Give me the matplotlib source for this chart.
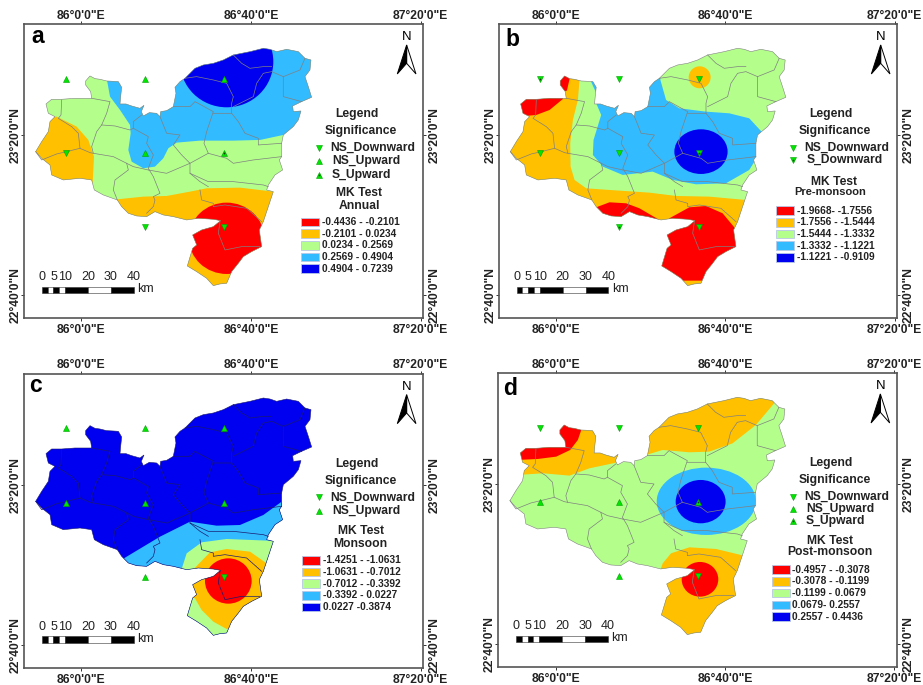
import matplotlib
matplotlib.use('Agg')
import matplotlib.pyplot as plt
from matplotlib.patches import Ellipse, Polygon, Rectangle

plt.rcParams['font.family'] = ['Liberation Sans', 'DejaVu Sans']

# Colour classes, low to high
class_colors = ['#FF0000', '#FFC000', '#B4FF8C', '#33BBFF', '#0000F0']
RED, ORANGE, GREEN, BLUE, NAVY = class_colors

outline = [(257, 243), (270, 228), (285, 236), (300, 238), (320, 243), (340, 244), (355, 245), (365, 262), (362, 290),
           (360, 312), (378, 312), (395, 318), (420, 325), (432, 316), (424, 335), (430, 348), (448, 338), (470, 340),
           (480, 350), (482, 335), (500, 332), (520, 320), (528, 280), (525, 262), (540, 245), (555, 235), (585, 205),
           (610, 195), (640, 190), (670, 180), (700, 165), (725, 160), (750, 155), (790, 145), (810, 148), (830, 155),
           (860, 148), (895, 155), (915, 175), (933, 180), (930, 210), (915, 230), (925, 260), (935, 292), (905, 305),
           (878, 318), (880, 335), (903, 333), (895, 360), (880, 380), (850, 405), (845, 430), (845, 470), (838, 480),
           (848, 510), (825, 525), (805, 555), (800, 570), (820, 575), (805, 620), (790, 665), (778, 690), (785, 740),
           (755, 755), (730, 770), (715, 790), (695, 815), (680, 850), (660, 852), (640, 857), (620, 835), (590, 815),
           (562, 798), (578, 745), (590, 735), (578, 705), (605, 690), (640, 680), (662, 662), (640, 658), (595, 655),
           (560, 660), (520, 650), (490, 645), (465, 635), (440, 650), (410, 648), (385, 640), (365, 620), (352, 600),
           (310, 585), (283, 570), (275, 540), (240, 535), (190, 540), (155, 525), (150, 495), (125, 475), (107, 455),
           (125, 425), (145, 395), (150, 365), (165, 350), (145, 340), (138, 312), (155, 298), (185, 298), (225, 295),
           (275, 295), (272, 275), (257, 255)]

districts = [
    [(185, 300), (183, 345), (175, 355), (215, 380), (235, 400), (240, 445), (270, 458), (280, 460)],
    [(107, 455), (125, 480), (170, 462), (200, 455), (240, 445)],
    [(275, 295), (330, 305), (320, 340), (305, 375), (290, 395), (275, 440), (280, 460), (340, 470), (380, 490),
     (400, 500), (445, 510)],
    [(305, 375), (345, 378), (390, 390), (400, 385), (400, 365), (425, 345)],
    [(400, 385), (445, 410), (440, 430), (460, 465), (445, 505), (460, 530), (480, 580), (460, 590), (465, 600),
     (460, 620), (440, 640)],
    [(380, 490), (385, 510), (345, 540), (340, 570), (352, 600)],
    [(480, 350), (500, 400), (540, 405), (520, 435), (545, 465), (570, 490), (570, 520), (600, 545), (625, 560)],
    [(520, 320), (570, 320), (585, 305), (640, 335), (630, 365), (620, 395), (612, 430), (625, 460), (680, 475),
     (700, 490), (760, 480), (845, 470)],
    [(640, 340), (695, 340), (715, 365), (735, 400), (775, 415), (775, 435), (845, 430)],
    [(695, 340), (695, 310), (700, 290), (680, 250), (640, 240), (590, 230), (555, 235)],
    [(700, 320), (760, 290), (770, 250), (790, 220), (815, 215), (850, 230), (850, 265), (850, 290), (905, 305)],
    [(700, 165), (725, 190), (750, 205), (790, 200), (815, 200)],
    [(850, 230), (900, 210), (915, 175)],
    [(445, 510), (500, 520), (570, 490), (625, 460)],
    [(600, 570), (605, 600), (640, 610), (640, 620), (675, 615), (740, 625), (785, 665)],
    [(660, 665), (655, 700), (675, 750), (725, 740), (780, 740)],
    [(570, 520), (625, 545), (700, 545), (790, 555), (805, 560)],
]

# Class zones, painted in order over a base colour and cut to the outline
base_a = GREEN
zones_a = [
    (BLUE, [(320, 235), (330, 290), (360, 330), (390, 375), (392, 400), (385, 450), (395, 485), (430, 505), (465, 500),
            (490, 475), (505, 445), (530, 428), (600, 422), (700, 422), (780, 420), (850, 405), (960, 400), (960, 100),
            (320, 100)]),
    (NAVY, (680, 185, 140, 137)),
    (ORANGE, [(170, 350), (230, 380), (265, 420), (282, 470), (278, 550), (100, 560), (100, 350)]),
    (ORANGE, [(352, 598), (430, 590), (500, 588), (570, 575), (620, 565), (720, 563), (820, 575), (850, 880), (340, 880)]),
    (RED, (680, 715, 113, 107)),
]
base_b = GREEN
zones_b = [
    (ORANGE, [(315, 240), (310, 300), (295, 360), (287, 430), (288, 500), (300, 540), (335, 565), (405, 570), (525, 578),
              (605, 588), (705, 590), (815, 600), (880, 603), (880, 880), (80, 880), (80, 100), (315, 100)]),
    (BLUE, [(345, 235), (370, 290), (365, 310), (380, 345), (357, 420), (355, 465), (385, 500), (445, 525), (535, 515),
            (595, 540), (665, 553), (755, 550), (825, 510), (850, 470), (862, 395), (825, 355), (765, 340), (695, 335),
            (615, 325), (575, 300), (558, 240), (555, 200), (345, 200)]),
    (NAVY, (680, 455, 80, 67)),
    (ORANGE, (676, 232, 33, 33)),
    (RED, [(130, 350), (185, 345), (225, 330), (265, 297), (265, 280), (130, 280)]),
    (RED, [(287, 215), (240, 215), (240, 280), (277, 272), (287, 228)]),
    (RED, [(365, 622), (405, 607), (455, 610), (495, 625), (555, 660), (555, 680), (340, 680), (340, 630)]),
    (RED, [(585, 655), (645, 622), (695, 618), (745, 640), (780, 682), (815, 760), (765, 842), (625, 842), (545, 800),
           (545, 700), (575, 680)]),
]
base_c = NAVY
zones_c = [
    (BLUE, [(375, 624), (480, 561), (570, 516), (650, 528), (720, 526), (790, 496), (845, 456), (880, 456), (880, 880),
            (340, 880), (340, 650)]),
    (GREEN, [(545, 658), (560, 611), (605, 578), (680, 568), (830, 574), (880, 580), (880, 880), (545, 880)]),
    (ORANGE, [(585, 654), (630, 608), (680, 598), (750, 606), (800, 641), (900, 686), (900, 836), (680, 838), (640, 816),
              (605, 781), (585, 746), (560, 740), (550, 690)]),
    (RED, (685, 694, 70, 68)),
]
base_d = GREEN
zones_d = [
    (ORANGE, [(516, 318), (566, 303), (646, 310), (706, 308), (776, 283), (846, 228), (901, 163), (901, 100), (516, 100)]),
    (ORANGE, [(130, 378), (206, 373), (286, 380), (346, 358), (431, 340), (500, 325), (500, 200), (130, 200)]),
    (RED, [(130, 333), (191, 330), (246, 323), (288, 303), (311, 273), (323, 238), (300, 200), (230, 200), (130, 200)]),
    (BLUE, (697, 457, 149, 101)),
    (NAVY, (680, 458, 75, 65)),
    (ORANGE, [(566, 643), (591, 613), (646, 595), (726, 600), (801, 618), (880, 625), (880, 880), (560, 880), (560, 660)]),
    (RED, (678, 691, 55, 52)),
]

# Rain gauge sites: lon, lat and the trend class per panel
site_lon = [85.938, 86.250, 86.562, 85.938, 86.250, 86.562, 86.250, 86.562]
site_lat = [23.570, 23.570, 23.570, 23.258, 23.258, 23.258, 22.949, 22.949]
sites_a = ['NSU', 'NSU', 'NSU', 'NSD', 'NSU', 'SU', 'NSD', 'NSD']
sites_b = ['SD', 'NSD', 'NSD', 'NSD', 'NSD', 'SD', 'SD', 'NSD']
sites_c = ['NSU', 'NSU', 'NSU', 'NSU', 'NSU', 'NSU', 'NSU', 'NSD']
sites_d = ['NSD', 'NSD', 'NSD', 'NSU', 'NSU', 'SU', 'NSU', 'NSD']

ranges_a = ['-0.4436 - -0.2101', '-0.2101 - 0.0234', '0.0234 - 0.2569', '0.2569 - 0.4904', '0.4904 - 0.7239']
ranges_b = ['-1.9668- -1.7556', '-1.7556 - -1.5444', '-1.5444 - -1.3332', '-1.3332 - -1.1221', '-1.1221 - -0.9109']
ranges_c = ['-1.4251 - -1.0631', '-1.0631 - -0.7012', '-0.7012 - -0.3392', '-0.3392 - 0.0227', '0.0227 -0.3874']
ranges_d = ['-0.4957 - -0.3078', '-0.3078 - -0.1199', '-0.1199 - 0.0679', '0.0679- 0.2557', '0.2557 - 0.4436']

sig_names = {'NSD': 'NS_Downward', 'NSU': 'NS_Upward', 'SU': 'S_Upward', 'SD': 'S_Downward'}

lon_ticks = [86.0, 86 + 2 / 3, 87 + 1 / 3]
lon_labels = ['86°0\'0"E', '86°40\'0"E', '87°20\'0"E']
lat_ticks = [22 + 2 / 3, 23 + 1 / 3]
lat_labels = ['22°40\'0"N', '23°20\'0"N']

scale_km = [0, 2.5, 5, 7.5, 10, 20, 30, 40]
scale_labels = [0, 5, 10, 20, 30, 40]

W, H = 923, 685


def lon(x):
    return 86 + (x - 244) / 509 * (2 / 3)


def lat(y):
    return 23 + 1 / 3 - (y - 406) / 479 * (2 / 3)


def geo(points):
    return [(lon(x), lat(y)) for x, y in points]


def draw_site(ax, x, y, kind):
    marker = 'v' if kind in ('NSD', 'SD') else '^'
    ax.plot(x, y, marker=marker, ms=4.8, color='#00E600', mec='#00A000', mew=0.4, ls='none', zorder=6, clip_on=False)
    if kind in ('SU', 'SD'):
        ax.plot(x, y, marker='o', ms=1.3, color='#104010', mew=0, ls='none', zorder=7, clip_on=False)


def draw_panel(box, letter, letter_pos, base, zones, sites, ranges, sig_rows, sig_x, title_pos, subtitle,
               sub_pos, sub_size, swatch_x, swatch_rows):
    left, top, right, bottom = box
    ax = fig.add_axes([left / W, 1 - bottom / H, (right - left) / W, (bottom - top) / H])
    ax.set_xlim(lon(72), lon(1270))
    ax.set_ylim(lat(955), lat(73))

    # Map
    region = Polygon(geo(outline), closed=True, facecolor=base, edgecolor='none', zorder=1)
    ax.add_patch(region)
    for color, shape in zones:
        if len(shape) == 4 and not isinstance(shape[0], tuple):
            cx, cy, rx, ry = shape
            patch = Ellipse((lon(cx), lat(cy)), rx * 2 / 509 * (2 / 3), ry * 2 / 479 * (2 / 3), facecolor=color,
                            edgecolor='none', zorder=2)
        else:
            patch = Polygon(geo(shape), closed=True, facecolor=color, edgecolor='none', zorder=2)
        ax.add_patch(patch)
        patch.set_clip_path(region)
    line_color = '#1A1A70' if base == NAVY else '#808080'
    for line in districts:
        pts = geo(line)
        ax.plot([p[0] for p in pts], [p[1] for p in pts], color=line_color, lw=0.5, zorder=3)
    ax.add_patch(Polygon(geo(outline), closed=True, fill=False, edgecolor=line_color, lw=0.4, zorder=3))

    for x, y, kind in zip(site_lon, site_lat, sites):
        draw_site(ax, x, y, kind)

    # Frame and graticule labels
    for spine in ax.spines.values():
        spine.set_color('#555555')
        spine.set_linewidth(1.2)
    ax.set_xticks(lon_ticks)
    ax.set_xticklabels(lon_labels, fontsize=8.7, fontweight='bold', color='#222222')
    ax.set_yticks(lat_ticks)
    ax.set_yticklabels(lat_labels, fontsize=8.7, fontweight='bold', color='#222222', rotation=90, va='center')
    ax.tick_params(top=True, labeltop=True, right=True, labelright=True, length=2.5, width=0.7, pad=1.5, color='#333333')
    for tick in ax.xaxis.get_major_ticks():
        tick.label2.set_va('baseline')
    for tick in ax.yaxis.get_major_ticks():
        tick.label1.set(rotation_mode='anchor', ha='center', va='baseline')

    ax.text(lon(letter_pos[0]), lat(letter_pos[1]), letter, fontsize=16.5, fontweight='bold', ha='center',
            va='center', zorder=8)

    # North arrow
    ax.text(lon(1220), lat(112), 'N', fontsize=9.5, ha='center', va='center')
    tip = (1220, 135)
    inner = (1220, 190)
    ax.add_patch(Polygon(geo([tip, (1248, 222), inner]), closed=True, facecolor='white', edgecolor='black', lw=0.7))
    ax.add_patch(Polygon(geo([tip, (1192, 222), inner]), closed=True, facecolor='black', edgecolor='black', lw=0.7))

    # Scale bar
    for i in range(len(scale_km) - 1):
        x0 = 126 + scale_km[i] * 6.9
        x1 = 126 + scale_km[i + 1] * 6.9
        ax.add_patch(Rectangle((lon(x0), lat(880)), lon(x1) - lon(x0), lat(860) - lat(880),
                               facecolor='black' if i % 2 == 0 else 'white', edgecolor='#333333', lw=0.4))
    for km in scale_labels:
        ax.text(lon(126 + km * 6.9), lat(832), str(km), fontsize=9, ha='center', va='center', color='#222222')
    ax.text(lon(412), lat(868), 'km', fontsize=9, ha='left', va='center', color='#222222')

    # Legend
    def label(x, y, s, ha='center', size=8.7):
        ax.text(lon(x), lat(y), s, fontsize=size, fontweight='bold', ha=ha, va='center', color='#222222', zorder=8)

    label(1072, 342, 'Legend')
    label(1083, 394, 'Significance')
    for (kind, row), x in zip(sig_rows, sig_x):
        draw_site(ax, lon(958), lat(row), kind)
        label(x, row, sig_names[kind], ha='left')
    label(title_pos[0], title_pos[1], 'MK Test')
    label(sub_pos[0], sub_pos[1], subtitle, size=sub_size)
    for color, text, row in zip(class_colors, ranges, swatch_rows):
        x0, x1 = swatch_x
        ax.add_patch(Rectangle((lon(x0), lat(row + 13)), lon(x1) - lon(x0), lat(row - 13) - lat(row + 13), facecolor=color,
                               edgecolor='#B8C8E8', lw=0.6, zorder=7))
        label(x1 + 8, row, text, ha='left', size=7.3)
    return ax


fig = plt.figure(figsize=(W / 100, H / 100), dpi=100, facecolor='white')

draw_panel((24, 24.3, 423.3, 318.3), 'a', (113, 110), base_a, zones_a, sites_a, ranges_a,
           [('NSD', 443), ('NSU', 484), ('SU', 526)], [990, 996, 996], (1078, 578), 'Annual', (1078, 618), 8.7,
           (902, 958), [666, 701, 736, 771, 806])
draw_panel((498.7, 24.3, 897.3, 318.3), 'b', (113, 118), base_b, zones_b, sites_b, ranges_b,
           [('NSD', 443), ('SD', 480)], [990, 997], (1081, 545), 'Pre-monsoon', (1068, 575), 8.0,
           (905, 961), [632, 667, 702, 737, 772])
draw_panel((24, 374, 423.3, 668), 'c', (107, 108), base_c, zones_c, sites_c, ranges_c,
           [('NSD', 443), ('NSU', 483)], [990, 996], (1082, 544), 'Monsoon', (1082, 584), 8.7,
           (907, 961), [632, 667, 702, 737, 772])
draw_panel((498.3, 373.3, 897, 667.3), 'd', (106, 118), base_d, zones_d, sites_d, ranges_d,
           [('NSD', 443), ('NSU', 479), ('SU', 515)], [990, 996, 996], (1068, 575), 'Post-monsoon', (1068, 609), 8.7,
           (893, 947), [662, 697, 732, 768, 803])

plt.savefig('out.png', dpi=100)
plt.close()
